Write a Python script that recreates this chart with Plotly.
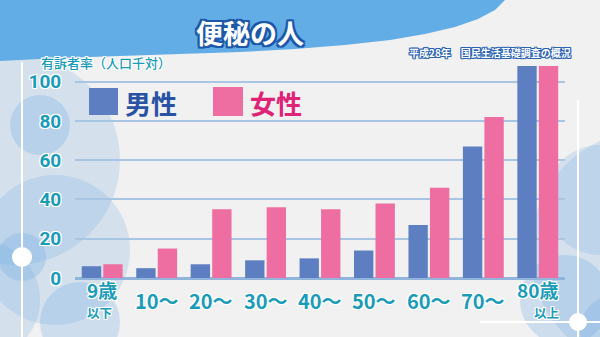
import plotly.graph_objects as go

# --- data -------------------------------------------------------------
categories = ["9歳以下", "10～", "20～", "30～", "40～", "50～", "60～", "70～", "80歳以上"]
label_main = ["9歳", "10～", "20～", "30～", "40～", "50～", "60～", "70～", "80歳"]
label_sub = ["以下", "", "", "", "", "", "", "", "以上"]
male = [6, 5, 7, 9, 10, 14, 27, 67, 108]
female = [7, 15, 35, 36, 35, 38, 46, 82, 108]
y_ticks = [0, 20, 40, 60, 80, 100]
series_names = ["男性", "女性"]

# --- styling ----------------------------------------------------------
W, H = 600, 337
L, R, T, B = 75, 35, 62, 59
PW, PH = W - L - R, H - T - B

MALE_C = "#5d7fc1"
FEMALE_C = "#ee6ea1"
TEAL = "#1a9bb8"
HEADER = "#63ade6"
BG = "#f1f1f1"
FONT = "Noto Sans CJK JP"
NUM_FONT = "Roboto"


def px(x):
    return (x - L) / PW


def py(y):
    return (H - B - y) / PH


def outline(color, w=1):
    return ", ".join(
        f"{dx}px {dy}px 0 {color}"
        for dx, dy in [(w, 0), (-w, 0), (0, w), (0, -w), (w, w), (-w, -w), (w, -w), (-w, w)]
    )


def circle(cx, cy, r, color):
    return dict(type="circle", xref="paper", yref="paper",
                x0=px(cx - r), x1=px(cx + r), y0=py(cy + r), y1=py(cy - r),
                fillcolor=color, line=dict(width=0), layer="below")


def line(x0, y0, x1, y1, color="white", width=2):
    return dict(type="line", xref="paper", yref="paper",
                x0=px(x0), y0=py(y0), x1=px(x1), y1=py(y1),
                line=dict(color=color, width=width), layer="below")


fig = go.Figure()
fig.add_trace(go.Bar(x=categories, y=male, name=series_names[0],
                     marker=dict(color=MALE_C, line=dict(width=0))))
fig.add_trace(go.Bar(x=categories, y=female, name=series_names[1],
                     marker=dict(color=FEMALE_C, line=dict(width=0))))

# decorative background
soft = "rgba(110,170,225,0.28)"
softer = "rgba(110,170,225,0.22)"
shapes = [
    circle(15, 160, 105, softer),
    circle(40, 125, 30, soft),
    circle(55, 250, 75, softer),
    circle(22, 257, 24, soft),
    circle(80, 322, 40, soft),
    circle(-20, 300, 60, softer),
    circle(650, 250, 120, softer),
    circle(565, 300, 45, soft),
    circle(600, 200, 55, softer),
    circle(615, 330, 35, soft),
    line(22, 62, 22, 337),
    line(578, 100, 578, 337),
    line(480, 322, 600, 322),
    circle(22, 257, 10, "white"),
    circle(578, 322, 9, "white"),
]

# header band with curved lower edge
pts = [(505, 0), (495, 10), (478, 19), (455, 27), (425, 34), (390, 40),
       (345, 45), (295, 49), (240, 52), (180, 54), (120, 56), (60, 58), (0, 61)]
path = f"M {px(-5)},{py(-5)} L {px(505)},{py(-5)} "
path += " ".join(f"L {px(x)},{py(y)}" for x, y in pts)
path += f" L {px(-5)},{py(61)} Z"
shapes.append(dict(type="path", xref="paper", yref="paper", path=path,
                   fillcolor=HEADER, line=dict(width=0), layer="below"))

# legend swatches
shapes.append(dict(type="rect", xref="paper", yref="paper",
                   x0=px(89), x1=px(118), y0=py(115), y1=py(88),
                   fillcolor=MALE_C, line=dict(width=0)))
shapes.append(dict(type="rect", xref="paper", yref="paper",
                   x0=px(213), x1=px(243), y0=py(116), y1=py(87),
                   fillcolor=FEMALE_C, line=dict(width=0)))

annotations = [
    dict(text="<b>便秘の人</b>", x=px(250), y=py(32), xanchor="center", yanchor="middle",
         font=dict(family=FONT, size=27, color="white", shadow=outline("#1d58a8", 2))),
    dict(text="<b>平成28年　国民生活基礎調査の概況</b>", x=px(490), y=py(52),
         xanchor="center", yanchor="middle",
         font=dict(family=FONT, size=10, color="white", shadow=outline("#2a62b3", 1))),
    dict(text="有訴者率（人口千対）", x=px(39), y=py(62), xanchor="left", yanchor="middle",
         font=dict(family=FONT, size=13, color=TEAL, weight=500, shadow=outline("white", 1))),
    dict(text="<b>" + series_names[0] + "</b>", x=px(123), y=py(102), xanchor="left", yanchor="middle",
         font=dict(family=FONT, size=26, color="#2a52a4")),
    dict(text="<b>" + series_names[1] + "</b>", x=px(248), y=py(102), xanchor="left", yanchor="middle",
         font=dict(family=FONT, size=26, color="#df2377")),
]

# category labels below the bars
sub_shift = {"以下": -3, "以上": 9}
for cat, main, sub in zip(categories, label_main, label_sub):
    if sub:
        annotations.append(dict(text=f"<b>{main}</b>", x=cat, xref="x", y=py(289), yref="paper",
                                xanchor="center", yanchor="middle", showarrow=False,
                                font=dict(family=FONT, size=19, color=TEAL, shadow=outline("white", 1))))
        annotations.append(dict(text=f"<b>{sub}</b>", x=cat, xref="x", y=py(312.5), yref="paper",
                                xanchor="center", yanchor="middle", showarrow=False,
                                xshift=sub_shift[sub],
                                font=dict(family=FONT, size=12.5, color=TEAL, shadow=outline("white", 1))))
    else:
        annotations.append(dict(text=f"<b>{main}</b>", x=cat, xref="x", y=py(300), yref="paper",
                                xanchor="center", yanchor="middle", showarrow=False,
                                font=dict(family=FONT, size=20, color=TEAL, shadow=outline("white", 1))))

for a in annotations:
    a.setdefault("xref", "paper")
    a.setdefault("yref", "paper")
    a.setdefault("showarrow", False)

fig.update_layout(
    width=W, height=H, autosize=False,
    margin=dict(l=L, r=R, t=T, b=B, pad=0),
    paper_bgcolor=BG, plot_bgcolor="rgba(0,0,0,0)",
    barmode="group", bargap=0.21, bargroupgap=0.1,
    showlegend=False,
    shapes=shapes, annotations=annotations,
    font=dict(family=FONT),
    xaxis=dict(range=[-0.5, 8.5], showticklabels=False, showgrid=False,
               zeroline=False, showline=False, ticks="", fixedrange=True),
    yaxis=dict(range=[0, 110], tickvals=y_ticks, ticktext=[str(v) for v in y_ticks],
               showgrid=True, gridcolor="#a8c5e4", gridwidth=2,
               zeroline=True, zerolinecolor="#90b4dc", zerolinewidth=2.5,
               showline=False, ticks="outside", ticklen=9, tickcolor="rgba(0,0,0,0)",
               tickfont=dict(family=NUM_FONT, size=19, color=TEAL, weight="bold",
                             shadow=outline("white", 1)),
               fixedrange=True),
)

fig.write_html("out.html")
